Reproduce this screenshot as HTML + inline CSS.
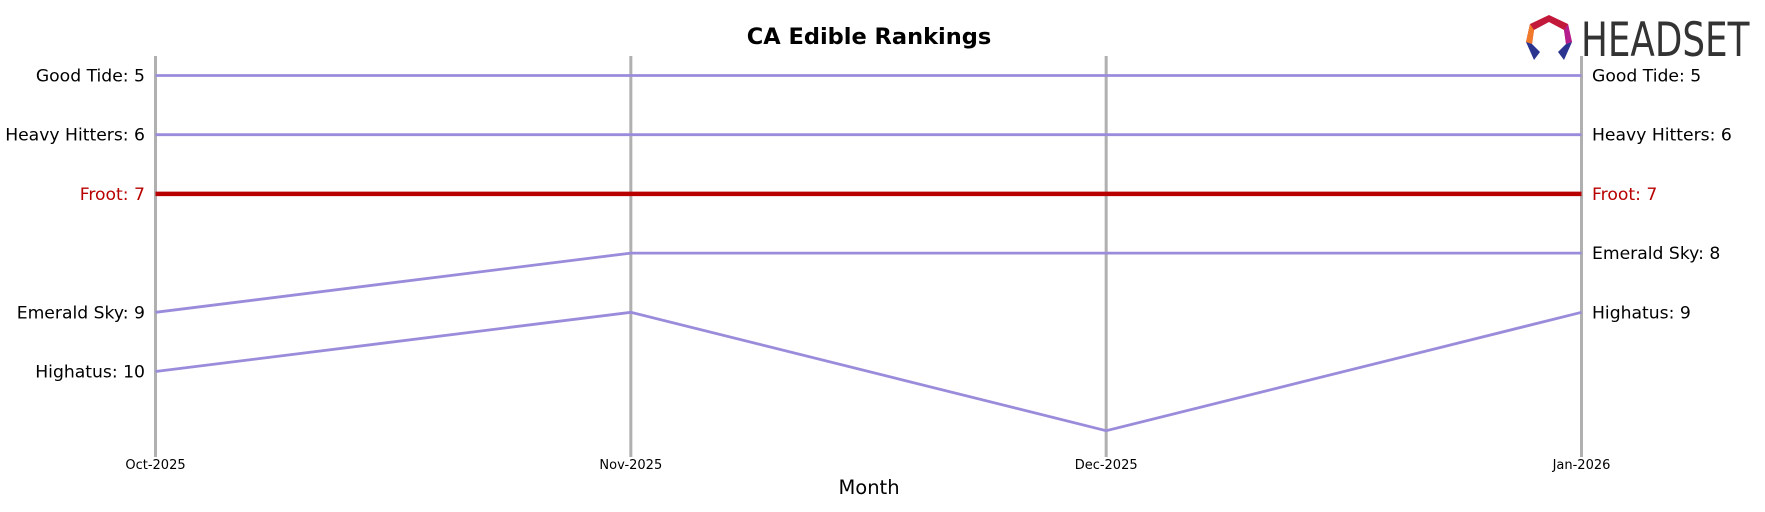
<!DOCTYPE html>
<html><head><meta charset="utf-8"><style>
body{margin:0;background:#fff;}
svg text{font-family:"DejaVu Sans","Liberation Sans",sans-serif;}
</style></head><body>
<svg id="chart" width="1765" height="507" viewBox="0 0 1765 507">
<text x="869" y="44" font-size="22.5" font-weight="bold" text-anchor="middle">CA Edible Rankings</text>
<g>
<polygon points="1549,15 1568,24 1572,42 1566,44 1564,30 1549,22 1534,30 1532,44 1526,42 1530,24" fill="#c2183a"/>
<polygon points="1530,24 1534,30 1532,44 1526,42" fill="#f07a2a"/>
<polygon points="1568,24 1572,42 1566,44 1564,30" fill="#b51d8c"/>
<polygon points="1526,42 1532,44 1540,52 1534,60" fill="#2b3590"/>
<polygon points="1572,42 1566,44 1558,52 1564,60" fill="#2b3590"/>
<text x="1581" y="56" font-size="47" fill="#333" font-family="Liberation Sans, sans-serif" transform="translate(1581,0) scale(0.76,1) translate(-1581,0)">HEADSET</text>
</g>
<g id="axes"></g>
<g id="lines"></g>
<g id="labels"></g>
<text x="869" y="494" font-size="19.5" text-anchor="middle">Month</text>
</svg>
<script>
const months = ["Oct-2025","Nov-2025","Dec-2025","Jan-2026"];
const brands = ["Good Tide","Heavy Hitters","Froot","Emerald Sky","Highatus"];
const goodTide = [5,5,5,5];
const heavyHitters = [6,6,6,6];
const froot = [7,7,7,7];
const emeraldSky = [9,8,8,8];
const highatus = [10,9,11,9];
const seriesList = [goodTide, heavyHitters, froot, emeraldSky, highatus];
const highlight = "Froot";

const NS = "http://www.w3.org/2000/svg";
const x = i => 155.5 + i * (1581.5 - 155.5) / (months.length - 1);
const y = r => 75.5 + (r - 5) * 59.2;
function mk(tag, attrs, parent) {
  const e = document.createElementNS(NS, tag);
  for (const k in attrs) e.setAttribute(k, attrs[k]);
  parent.appendChild(e);
  return e;
}
const axes = document.getElementById("axes"), lines = document.getElementById("lines"), labels = document.getElementById("labels");
months.forEach((m, i) => {
  const l = mk("line", {x1: x(i), x2: x(i), y1: 56, y2: 457, stroke: "#b0b0b0", "stroke-width": 3}, axes);
  
  
  const t = mk("text", {x: x(i), y: 469, "font-size": 13, "text-anchor": "middle"}, axes);
  t.textContent = m;
  
  
});
seriesList.forEach((s, k) => {
  const hl = brands[k] === highlight;
  const col = hl ? "#b80000" : "#9b8cdb";
  const p = mk("polyline", {points: s.map((v, i) => x(i) + "," + y(v)).join(" "), fill: "none", stroke: col, "stroke-width": hl ? 4.5 : 2.8}, lines);
  
  
  const a = mk("text", {x: 145, y: y(s[0]) + 6, "font-size": 17.2, "text-anchor": "end", fill: hl ? "#b80000" : "#000"}, labels);
  a.textContent = brands[k] + ": " + s[0];
  
  
  const b = mk("text", {x: 1592, y: y(s[s.length - 1]) + 6, "font-size": 17.2, fill: hl ? "#b80000" : "#000"}, labels);
  b.textContent = brands[k] + ": " + s[s.length - 1];
  
  
});
</script>
</body></html>
